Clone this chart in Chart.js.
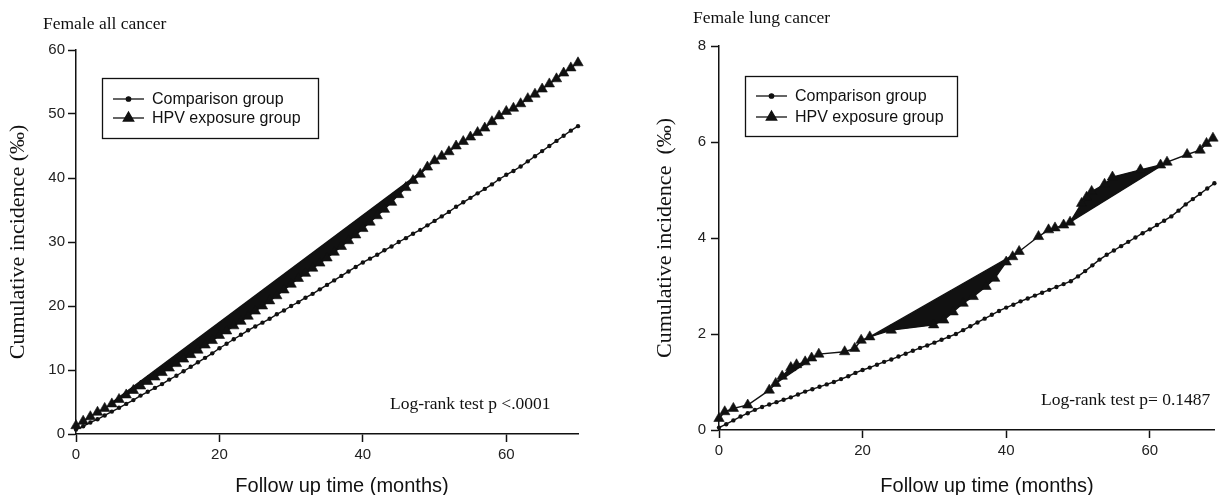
<!DOCTYPE html>
<html>
<head>
<meta charset="utf-8">
<script src="https://cdn.jsdelivr.net/npm/chart.js@4.4.0/dist/chart.umd.min.js"></script>
<style>
    body { margin: 0; background: #fff; width: 1221px; height: 495px; position: relative; overflow: hidden; }
    .panel { position: absolute; top: 0; height: 495px; }
    #allPanel { left: 0; width: 600px; }
    #lungPanel { left: 620px; width: 601px; }
    .note { position: absolute; font-family: "Liberation Serif", serif; font-size: 17.5px; line-height: 20px; color: #111; white-space: nowrap; }
    .xtitle { position: absolute; width: 300px; text-align: center; font-family: "Liberation Sans", Arial, sans-serif; font-size: 20px; line-height: 24px; color: #111; white-space: nowrap; }
</style>
</head>
<body>
<div class="panel" id="allPanel"><canvas id="allChart" width="600" height="495"></canvas></div>
<div class="panel" id="lungPanel"><canvas id="lungChart" width="601" height="495"></canvas></div>
<div class="note" style="left:43px; top:13px;">Female all cancer</div>
<div class="note" style="left:693px; top:7px;">Female lung cancer</div>
<div class="note" style="left:390px; top:393px;">Log-rank test p &lt;.0001</div>
<div class="note" style="left:1041px; top:389px;">Log-rank test p= 0.1487</div>
<div class="xtitle" style="left:192px; top:473px;">Follow up time (months)</div>
<div class="xtitle" style="left:837px; top:473px;">Follow up time (months)</div>

<script>
"use strict";

// ---- data ----

var seriesNames = ["Comparison group", "HPV exposure group"];

// Female all cancer, one point per month
var allMonths = [0, 1, 2, 3, 4, 5, 6, 7, 8, 9, 10, 11, 12, 13, 14, 15, 16, 17, 18, 19, 20, 21, 22, 23, 24, 25, 26, 27, 28, 29, 30, 31, 32, 33, 34, 35, 36, 37, 38, 39, 40, 41, 42, 43, 44, 45, 46, 47, 48, 49, 50, 51, 52, 53, 54, 55, 56, 57, 58, 59, 60, 61, 62, 63, 64, 65, 66, 67, 68, 69, 70];
var allComparison = [0.7, 1.2, 1.8, 2.3, 2.9, 3.5, 4.1, 4.7, 5.3, 6.0, 6.6, 7.2, 7.8, 8.5, 9.1, 9.8, 10.5, 11.2, 11.9, 12.6, 13.4, 14.1, 14.8, 15.5, 16.2, 16.8, 17.4, 18.0, 18.7, 19.3, 20.0, 20.6, 21.3, 21.9, 22.6, 23.3, 24.0, 24.7, 25.4, 26.1, 26.8, 27.4, 28.0, 28.7, 29.3, 30.0, 30.6, 31.3, 31.9, 32.6, 33.3, 34.0, 34.7, 35.5, 36.2, 36.9, 37.6, 38.3, 39.0, 39.8, 40.5, 41.1, 41.8, 42.6, 43.4, 44.2, 45.0, 45.8, 46.6, 47.4, 48.1];
var allHpv = [1.3, 2.0, 2.7, 3.4, 4.0, 4.7, 5.4, 6.1, 6.8, 7.5, 8.2, 8.9, 9.6, 10.3, 11.0, 11.7, 12.4, 13.1, 13.9, 14.6, 15.4, 16.1, 16.9, 17.6, 18.4, 19.2, 20.0, 20.8, 21.6, 22.5, 23.4, 24.3, 25.1, 25.9, 26.7, 27.5, 28.4, 29.3, 30.2, 31.1, 32.1, 33.1, 34.1, 35.1, 36.2, 37.4, 38.5, 39.6, 40.6, 41.7, 42.7, 43.4, 44.1, 45.0, 45.7, 46.4, 47.1, 47.8, 48.8, 49.7, 50.4, 50.9, 51.6, 52.4, 53.1, 53.9, 54.7, 55.5, 56.4, 57.2, 58.0];
// straight edge of the filled band above the triangles
var allBandMonths = [5, 49];
var allBandValues = [4.9, 41.7];

// Female lung cancer
var lungMonths = [0, 1, 2, 3, 4, 5, 6, 7, 8, 9, 10, 11, 12, 13, 14, 15, 16, 17, 18, 19, 20, 21, 22, 23, 24, 25, 26, 27, 28, 29, 30, 31, 32, 33, 34, 35, 36, 37, 38, 39, 40, 41, 42, 43, 44, 45, 46, 47, 48, 49, 50, 51, 52, 53, 54, 55, 56, 57, 58, 59, 60, 61, 62, 63, 64, 65, 66, 67, 68, 69];
var lungComparison = [0.05, 0.12, 0.2, 0.28, 0.35, 0.42, 0.48, 0.53, 0.58, 0.63, 0.68, 0.74, 0.8, 0.85, 0.9, 0.95, 1.0, 1.06, 1.12, 1.19, 1.25, 1.3, 1.36, 1.42, 1.47, 1.53, 1.59, 1.65, 1.71, 1.76, 1.82, 1.88, 1.94, 2.0, 2.08, 2.16, 2.24, 2.32, 2.4, 2.48, 2.55, 2.61, 2.68, 2.74, 2.8, 2.86, 2.92, 2.98, 3.04, 3.1, 3.2, 3.31, 3.43, 3.55, 3.65, 3.74, 3.83, 3.92, 4.01, 4.1, 4.18, 4.27, 4.36, 4.45, 4.57, 4.7, 4.81, 4.92, 5.03, 5.14];
var lungHpvMonths = [0, 0.8, 2, 4, 7, 7.9, 8.8, 10, 10.8, 12, 12.9, 13.9, 17.5, 18.9, 19.8, 21, 24, 29.9, 31.3, 32.6, 34, 35.4, 37.2, 38.4, 40, 40.9, 41.8, 44.5, 45.9, 46.8, 48, 48.9, 50.5, 51.2, 51.9, 53.7, 54.8, 58.7, 61.5, 62.4, 65.2, 67, 67.9, 68.8];
var lungHpv = [0.24, 0.38, 0.45, 0.52, 0.83, 0.97, 1.12, 1.3, 1.36, 1.42, 1.5, 1.58, 1.63, 1.7, 1.87, 1.94, 2.08, 2.19, 2.29, 2.46, 2.64, 2.78, 2.99, 3.16, 3.5, 3.61, 3.72, 4.03, 4.17, 4.21, 4.27, 4.33, 4.72, 4.85, 4.97, 5.12, 5.27, 5.42, 5.52, 5.58, 5.74, 5.83, 5.97, 6.08];
var lungBandMonths = [[7.9, 13.9], [21, 41.8], [48.9, 62.4]];
var lungBandValues = [[0.97, 1.58], [1.94, 3.72], [4.33, 5.58]];

var monthTicks = [0, 20, 40, 60];

// ---- helpers ----

var INK = "#111";
var SANS = "'Liberation Sans', Arial, sans-serif";
var SERIF = "'Liberation Serif', 'Times New Roman', serif";

function toPoints(xs, ys) {
    return xs.map(function (x, i) { return { x: x, y: ys[i] }; });
}

function bandDataset(xs, ys) {
    return {
        data: toPoints(xs, ys),
        borderColor: INK,
        borderWidth: 1.3,
        backgroundColor: INK,
        pointRadius: 0,
        fill: 1,
        clip: false,
        order: 5
    };
}

// legend drawn inside a plain box, like the original
var boxLegend = {
    id: 'boxLegend',
    afterDraw: function (chart, args, opts) {
        var ctx = chart.ctx;
        ctx.save();
        ctx.strokeStyle = INK;
        ctx.fillStyle = INK;
        ctx.lineWidth = 1.3;
        ctx.strokeRect(opts.x + 0.5, opts.y + 0.5, opts.w, opts.h);
        ctx.font = "16px " + SANS;
        ctx.textBaseline = "middle";
        chart.data.datasets.filter(function (d) { return d.label; }).forEach(function (ds, i) {
            var y = opts.rows[i];
            ctx.lineWidth = 1.3;
            ctx.beginPath();
            ctx.moveTo(opts.x + 11, y);
            ctx.lineTo(opts.x + 42, y);
            ctx.stroke();
            Chart.helpers.drawPoint(ctx, { pointStyle: ds.pointStyle, radius: ds.pointRadius, rotation: 0, borderWidth: 1 }, opts.x + 26.5, y);
            ctx.fillText(ds.label, opts.x + 50, y + 1);
        });
        ctx.restore();
    }
};

function axisStyle(extra) {
    var base = {
        type: 'linear',
        border: { color: INK, width: 1.5 },
        grid: { drawOnChartArea: false, tickLength: 8, tickColor: INK, tickWidth: 1.5 }
    };
    return Object.assign(base, extra);
}

function makeChart(id, cfg) {
    return new Chart(document.getElementById(id), {
        type: 'line',
        data: {
            datasets: [
                {
                    label: seriesNames[0],
                    data: toPoints(cfg.months, cfg.comparison),
                    borderColor: INK, borderWidth: 1.4,
                    pointStyle: 'circle', pointRadius: 2.2,
                    pointBackgroundColor: INK, pointBorderColor: INK, pointBorderWidth: 0,
                    clip: false, order: 2
                },
                {
                    label: seriesNames[1],
                    data: toPoints(cfg.hpvMonths, cfg.hpv),
                    borderColor: INK, borderWidth: 1.4,
                    pointStyle: 'triangle', pointRadius: 6,
                    pointBackgroundColor: INK, pointBorderColor: INK, pointBorderWidth: 0.6,
                    clip: false, order: 1
                }
            ].concat(cfg.bands)
        },
        plugins: [boxLegend],
        options: {
            responsive: false,
            animation: false,
            events: [],
            layout: { padding: { top: cfg.top, right: cfg.right, bottom: 0, left: 0 } },
            plugins: {
                legend: { display: false },
                tooltip: { enabled: false },
                boxLegend: cfg.legend
            },
            scales: {
                x: axisStyle({
                    min: 0, max: cfg.xMax,
                    afterBuildTicks: function (scale) {
                        scale.ticks = monthTicks.map(function (v) { return { value: v }; });
                    },
                    ticks: { color: "#222", font: { family: SANS, size: 15 }, maxRotation: 0, padding: 4 },
                    afterFit: function (scale) { scale.height = cfg.xHeight; }
                }),
                y: axisStyle({
                    min: 0, max: cfg.yMax,
                    ticks: { stepSize: cfg.yStep, color: "#222", font: { family: SANS, size: 15 }, padding: cfg.yPad },
                    title: { display: true, text: cfg.yTitle, color: INK, font: { family: SERIF, size: 22 }, padding: { top: cfg.yTitleGap, bottom: 0 } },
                    afterFit: function (scale) { scale.width = cfg.yWidth; }
                })
            }
        }
    });
}

makeChart('allChart', {
    months: allMonths, comparison: allComparison,
    hpvMonths: allMonths, hpv: allHpv,
    bands: [bandDataset(allBandMonths, allBandValues)],
    xMax: 70, yMax: 60, yStep: 10,
    top: 50, right: 22, xHeight: 61, yWidth: 76, yPad: 3, yTitleGap: 5,
    yTitle: 'Cumulative incidence (‰)',
    legend: { x: 102, y: 78, w: 216, h: 60, rows: [99, 118] }
});

makeChart('lungChart', {
    months: lungMonths, comparison: lungComparison,
    hpvMonths: lungHpvMonths, hpv: lungHpv,
    bands: lungBandMonths.map(function (xs, i) { return bandDataset(xs, lungBandValues[i]); }),
    xMax: 69, yMax: 8, yStep: 2,
    top: 46, right: 0, xHeight: 65, yWidth: 99, yPad: 5, yTitleGap: 32,
    yTitle: 'Cumulative incidence  (‰)',
    legend: { x: 125, y: 76, w: 212, h: 60, rows: [96, 117] }
});
</script>
</body>
</html>
